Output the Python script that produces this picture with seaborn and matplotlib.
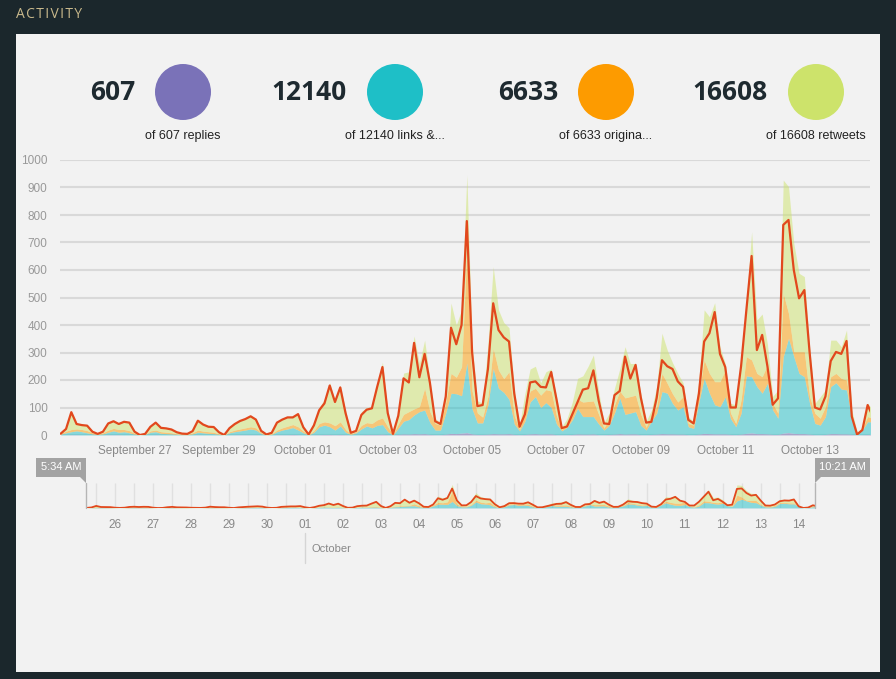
import numpy as np
import pandas as pd
import seaborn as sns
import matplotlib.pyplot as plt
import matplotlib.dates as mdates
from matplotlib.patches import Rectangle, Ellipse, Polygon
from matplotlib.lines import Line2D
from matplotlib.transforms import blended_transform_factory

# 3-hourly samples from Sep 25 06:00 to Oct 14 12:00
red_line = [5, 22, 83, 40, 36, 34,
            12, 4, 12, 42, 50, 40, 48, 45,
            12, 0, 4, 30, 45, 26, 24, 20,
            10, 5, 4, 14, 52, 38, 30, 29,
            10, 0, 25, 40, 51, 58, 68, 56,
            15, 2, 8, 45, 56, 64, 64, 76,
            28, 2, 35, 90, 115, 180, 120, 173,
            80, 8, 15, 73, 92, 97, 175, 247,
            80, 4, 70, 206, 191, 335, 210, 295,
            190, 50, 40, 140, 390, 330, 400, 778,
            300, 105, 109, 240, 479, 382, 355, 340,
            150, 30, 75, 191, 195, 175, 173, 229,
            130, 25, 31, 75, 120, 165, 170, 235,
            125, 42, 40, 145, 160, 285, 205, 255,
            135, 45, 48, 135, 272, 250, 240, 195,
            175, 55, 42, 150, 340, 370, 447, 295,
            247, 100, 100, 250, 453, 651, 309, 364,
            250, 110, 133, 764, 782, 600, 497, 527,
            300, 100, 93, 140, 269, 302, 295, 342,
            67, 2, 18, 109, 67]

# top edge of each stacked band (replies < links < originals < retweets)
replies_top = [0, 0, 1, 1, 0, 0,
               0, 0, 0, 1, 1, 1, 0, 0,
               0, 0, 0, 0, 1, 0, 0, 0,
               0, 0, 0, 0, 1, 0, 0, 0,
               0, 0, 0, 1, 1, 1, 1, 1,
               0, 0, 0, 1, 1, 1, 2, 1,
               0, 0, 1, 1, 2, 2, 1, 2,
               1, 0, 0, 1, 2, 2, 2, 3,
               1, 0, 2, 4, 3, 5, 4, 5,
               2, 1, 1, 3, 6, 5, 7, 9,
               4, 2, 2, 3, 5, 4, 4, 5,
               2, 1, 2, 4, 5, 3, 4, 4,
               1, 1, 1, 2, 4, 3, 3, 4,
               1, 1, 2, 3, 5, 3, 4, 4,
               1, 1, 2, 3, 5, 4, 4, 3,
               3, 1, 1, 3, 6, 5, 4, 4,
               4, 2, 1, 3, 6, 8, 5, 5,
               4, 2, 2, 7, 9, 6, 5, 5,
               3, 1, 1, 2, 5, 5, 4, 4,
               2, 0, 1, 2, 2]

links_top = [3, 8, 12, 15, 12, 8,
             4, 2, 4, 10, 15, 10, 12, 8,
             3, 0, 2, 10, 12, 6, 5, 4,
             2, 1, 1, 4, 10, 8, 6, 5,
             2, 0, 8, 12, 15, 18, 22, 18,
             5, 0, 2, 12, 18, 22, 27, 18,
             8, 0, 10, 30, 36, 30, 18, 33,
             10, 2, 8, 22, 33, 26, 35, 38,
             12, 0, 25, 50, 56, 73, 85, 91,
             45, 18, 18, 80, 152, 150, 143, 262,
             95, 44, 44, 110, 242, 170, 155, 130,
             40, 15, 50, 120, 140, 100, 118, 100,
             40, 15, 28, 55, 97, 67, 67, 67,
             40, 18, 35, 80, 135, 75, 80, 85,
             35, 18, 50, 79, 158, 152, 115, 91,
             103, 30, 24, 120, 206, 152, 110, 103,
             139, 60, 30, 79, 215, 212, 176, 152,
             188, 91, 61, 285, 352, 285, 224, 212,
             115, 42, 36, 67, 176, 190, 167, 164,
             60, 6, 18, 48, 48]

originals_top = [5, 14, 20, 22, 20, 16,
                 8, 3, 8, 18, 24, 20, 20, 16,
                 6, 0, 3, 15, 18, 12, 10, 8,
                 4, 2, 2, 8, 18, 14, 12, 10,
                 4, 0, 12, 18, 22, 26, 30, 26,
                 8, 1, 4, 18, 26, 32, 38, 30,
                 14, 1, 16, 42, 48, 44, 34, 48,
                 20, 4, 12, 35, 45, 42, 55, 62,
                 30, 2, 40, 75, 85, 95, 103, 170,
                 85, 42, 36, 120, 224, 210, 248, 670,
                 160, 80, 65, 140, 315, 236, 205, 230,
                 70, 20, 90, 160, 170, 145, 165, 160,
                 70, 20, 40, 85, 130, 120, 122, 124,
                 75, 25, 60, 110, 160, 135, 140, 145,
                 75, 28, 75, 103, 224, 188, 150, 120,
                 139, 42, 36, 150, 273, 224, 194, 194,
                 236, 80, 42, 127, 285, 273, 224, 212,
                 255, 115, 79, 515, 442, 303, 303, 303,
                 139, 79, 61, 103, 212, 224, 206, 200,
                 75, 8, 25, 67, 60]

retweets_top = [6, 24, 85, 45, 38, 36,
                14, 5, 14, 45, 55, 42, 50, 48,
                14, 1, 5, 32, 48, 28, 26, 22,
                12, 6, 5, 16, 55, 40, 33, 31,
                12, 1, 27, 42, 54, 60, 72, 60,
                16, 3, 10, 48, 60, 66, 68, 80,
                30, 3, 40, 100, 130, 190, 125, 180,
                90, 10, 20, 85, 100, 102, 180, 265,
                90, 5, 80, 225, 230, 360, 260, 345,
                200, 60, 45, 160, 480, 400, 455, 945,
                330, 125, 115, 330, 612, 455, 409, 390,
                165, 35, 150, 240, 250, 190, 230, 240,
                140, 30, 60, 120, 206, 215, 250, 291,
                160, 45, 80, 170, 240, 321, 260, 260,
                150, 50, 90, 176, 370, 309, 263, 224,
                190, 67, 48, 200, 455, 430, 481, 320,
                260, 115, 110, 260, 480, 739, 418, 440,
                330, 140, 164, 927, 903, 697, 588, 576,
                320, 115, 139, 164, 345, 345, 321, 382,
                91, 10, 30, 115, 91]

kpi_values = ['607', '12140', '6633', '16608']
kpi_captions = ['of 607 replies', 'of 12140 links &...', 'of 6633 origina...', 'of 16608 retweets']
kpi_colors = ['#7a72b8', '#1ebfc7', '#fd9b00', '#cde36b']
y_ticks = list(range(0, 1001, 100))

times = pd.date_range('2014-09-25 06:00', periods=len(red_line), freq='3h')
x_start = pd.Timestamp('2014-09-25 05:34')
x_end = pd.Timestamp('2014-10-14 10:21')

sns.set_theme(style='white')
plt.rcParams['font.family'] = ['Liberation Sans', 'DejaVu Sans']

W, H = 896, 679
fig = plt.figure(figsize=(W / 100, H / 100), dpi=100, facecolor='#1b272c')


def fx(px):
    return px / W


def fy(py):
    return 1 - py / H


# light panel behind everything
fig.patches.append(Rectangle((fx(16), fy(672)), fx(880) - fx(16), fy(34) - fy(672),
                             transform=fig.transFigure, facecolor='#f2f2f2',
                             edgecolor='none', zorder=-10))
fig.text(fx(16), fy(14), 'A C T I V I T Y'.replace(' ', '\u200a'), family='Open Sans',
         fontsize=10, color='#c9b98c', va='center', ha='left')

# KPI row
circle_x = [183, 395, 606, 816]
for cx, val, cap, col in zip(circle_x, kpi_values, kpi_captions, kpi_colors):
    fig.patches.append(Ellipse((fx(cx), fy(92)), 56 / W, 56 / H, transform=fig.transFigure,
                               facecolor=col, edgecolor='none'))
    fig.text(fx(cx - 48), fy(93), val, ha='right', va='center', fontsize=19,
             weight='bold', family='Open Sans', color='#1e2a30')
    fig.text(fx(cx), fy(136), cap, ha='center', va='center', fontsize=9, color='#222222')

band_colors = ['#7a72b8', '#1ebfc7', '#fd9b00', '#cde36b']
tops = [replies_top, links_top, originals_top, retweets_top]


def draw_stack(axis, lw):
    lower = np.zeros(len(times))
    for top, col in zip(tops, band_colors):
        top = np.asarray(top, dtype=float)
        axis.fill_between(times, lower, top, color=col, alpha=0.5, lw=0, zorder=2)
        lower = top
    sns.lineplot(x=times, y=red_line, ax=axis, color='#e2481d', lw=lw, zorder=5)


# main chart
ax = fig.add_axes([fx(60), fy(435), fx(870) - fx(60), fy(160) - fy(435)], zorder=1)
ax.set_facecolor('none')
draw_stack(ax, 1.6)
ax.set_xlim(x_start, x_end)
ax.set_ylim(0, 1000)
ax.set_yticks(y_ticks)
ax.grid(axis='y', color='#d9d9d9', lw=1.5)
ax.grid(axis='x', visible=False)
ax.set_axisbelow(True)
for s in ax.spines.values():
    s.set_visible(False)
ax.set_xticks(pd.date_range('2014-09-27', '2014-10-13', freq='2D'))
ax.xaxis.set_major_formatter(mdates.DateFormatter('%B %d'))
ax.tick_params(axis='y', length=0, pad=9, labelsize=8.5, labelcolor='#999999')
ax.tick_params(axis='x', length=0, pad=7, labelsize=8.5, labelcolor='#888888')
ax.set_xlabel('')
ax.set_ylabel('')

# navigator
nav = fig.add_axes([fx(86), fy(508), fx(815) - fx(86), fy(483) - fy(508)], zorder=1)
nav.set_facecolor('none')
nav.vlines(pd.date_range('2014-09-25 12:00', '2014-10-14 00:00', freq='12h'), 0, 1,
           transform=nav.get_xaxis_transform(), color='#e0e0e0', lw=1, zorder=0)
draw_stack(nav, 1.3)
nav.set_xlim(x_start, x_end)
nav.set_ylim(0, 1000)
nav.set_yticks([])
for s in nav.spines.values():
    s.set_visible(False)
nav.set_xticks(pd.date_range('2014-09-26', '2014-10-14', freq='D'))
nav.xaxis.set_major_formatter(mdates.DateFormatter('%d'))
nav.tick_params(axis='x', length=0, pad=8, labelsize=8.5, labelcolor='#888888')
nav.set_xlabel('')
nav.set_ylabel('')

oct1 = mdates.date2num(pd.Timestamp('2014-10-01'))
trans = blended_transform_factory(nav.transData, fig.transFigure)
nav.add_line(Line2D([oct1, oct1], [fy(533), fy(563)], transform=trans,
                    color='#d5d5d5', lw=1, clip_on=False))
nav.annotate('October', xy=(oct1, fy(549)), xycoords=trans, xytext=(5, 0),
             textcoords='offset points', va='center', ha='left', fontsize=8, color='#888888')

# navigator handles
for x0, x1, label, tri in [(36, 86, '5:34 AM', [(80, 477), (86, 477), (86, 483)]),
                           (815, 870, '10:21 AM', [(815, 477), (821, 477), (815, 483)])]:
    fig.patches.append(Rectangle((fx(x0), fy(477)), fx(x1) - fx(x0), fy(458) - fy(477),
                                 transform=fig.transFigure, facecolor='#a3a3a3', edgecolor='none'))
    fig.patches.append(Polygon([(fx(a), fy(b)) for a, b in tri], closed=True,
                               transform=fig.transFigure, facecolor='#a3a3a3', edgecolor='none'))
    fig.text(fx((x0 + x1) / 2), fy(467.5), label, ha='center', va='center',
             fontsize=8, color='white')
    hx = x1 if x0 < 100 else x0
    fig.add_artist(Line2D([fx(hx), fx(hx)], [fy(483), fy(508)], transform=fig.transFigure,
                          color='#b5b5b5', lw=1))

fig.savefig('out.png', dpi=100, facecolor=fig.get_facecolor())
